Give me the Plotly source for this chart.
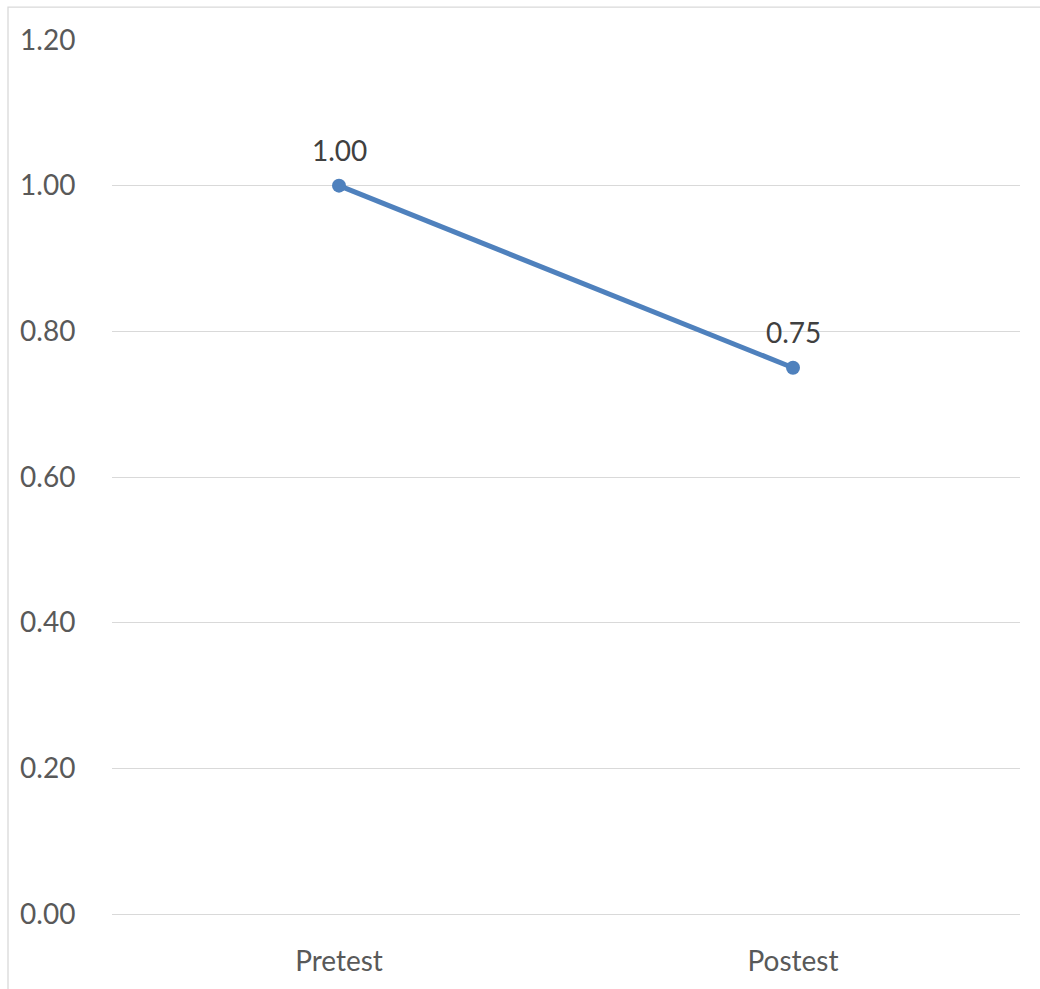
import plotly.graph_objects as go

categories = ["Pretest", "Postest"]
values = [1.00, 0.75]
labels = ["1.00", "0.75"]
y_ticks = [0, 0.2, 0.4, 0.6, 0.8, 1.0, 1.2]
y_tick_text = ["0.00", "0.20", "0.40", "0.60", "0.80", "1.00", "1.20"]

FONT = "Lato"
FS = 28

fig = go.Figure()
fig.add_trace(go.Scatter(
    x=categories, y=values, mode="lines+markers",
    line=dict(color="#4F81BD", width=5),
    marker=dict(color="#4F81BD", size=14),
    cliponaxis=False, showlegend=False,
))

for c, v, t in zip(categories, values, labels):
    fig.add_annotation(x=c, y=v, text=t, showarrow=False, yshift=36,
                       font=dict(family=FONT, size=FS, color="#404040"))

fig.update_layout(
    width=1040, height=989,
    margin=dict(l=112, r=20, t=40, b=73),
    paper_bgcolor="white", plot_bgcolor="white",
    font=dict(family=FONT, size=FS, color="#595959"),
    xaxis=dict(range=[-0.5, 1.5], showgrid=False, showline=False, zeroline=False,
               ticks="outside", ticklen=22, tickcolor="rgba(0,0,0,0)",
               tickfont=dict(family=FONT, size=FS, color="#595959")),
    yaxis=dict(range=[0, 1.2], tickvals=y_ticks, ticktext=y_tick_text,
               showgrid=True, gridcolor="#D9D9D9", gridwidth=1.3,
               zeroline=True, zerolinecolor="#D9D9D9", zerolinewidth=1.3,
               showline=False,
               ticks="outside", ticklen=30, tickcolor="rgba(0,0,0,0)",
               tickfont=dict(family=FONT, size=FS, color="#595959")),
    shapes=[dict(type="rect", xref="paper", yref="paper",
                 x0=-104/908, x1=1.2, y0=-80/876, y1=(876+33)/876,
                 line=dict(color="#D9D9D9", width=1.3), fillcolor="rgba(0,0,0,0)",
                 layer="below")],
)

fig.write_html("out.html")
